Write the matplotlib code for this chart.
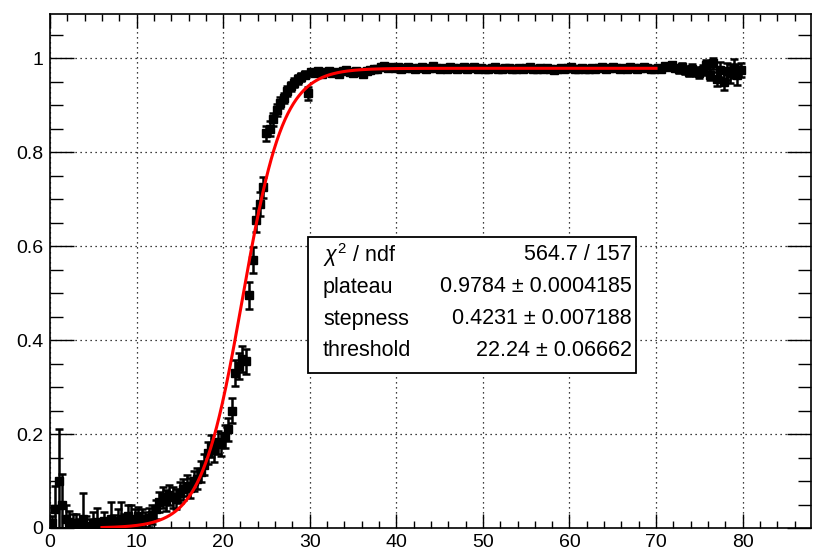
import numpy as np
import matplotlib
matplotlib.use("Agg")
import matplotlib.pyplot as plt
from matplotlib.patches import Rectangle
from matplotlib.ticker import MultipleLocator

plt.rcParams['font.family'] = ['Liberation Sans', 'DejaVu Sans']
plt.rcParams['mathtext.fontset'] = 'custom'
plt.rcParams['mathtext.rm'] = 'Liberation Sans'
plt.rcParams['mathtext.it'] = 'Liberation Sans:italic'

# Histogram binning: 200 bins of width 0.4 over [0, 80]
bin_width = 0.4
n_bins = 200

# Efficiency per bin, in four ranges of x
eff_low = [0.010, 0.040, 0.100, 0.050, 0.020, 0.012, 0.000, 0.010, 0.000, 0.020,
           0.005, 0.000, 0.010, 0.012, 0.000, 0.015, 0.000, 0.020, 0.008, 0.015,
           0.020, 0.010, 0.025, 0.018, 0.020, 0.025, 0.020, 0.018, 0.022, 0.028]
err_low = [0.015, 0.050, 0.110, 0.065, 0.030, 0.025, 0.030, 0.020, 0.020, 0.055,
           0.020, 0.020, 0.025, 0.030, 0.020, 0.020, 0.015, 0.035, 0.020, 0.025,
           0.035, 0.020, 0.025, 0.030, 0.020, 0.020, 0.020, 0.015, 0.020, 0.020]

eff_rise = [0.040, 0.055, 0.065, 0.058, 0.070, 0.065, 0.062, 0.075, 0.082, 0.090,
            0.085, 0.100, 0.105, 0.120, 0.135, 0.160, 0.175, 0.165, 0.182, 0.178,
            0.195, 0.210, 0.250, 0.330, 0.345, 0.360, 0.355, 0.495, 0.570, 0.655,
            0.690, 0.725, 0.840, 0.850, 0.870, 0.890, 0.905, 0.915, 0.930, 0.940,
            0.948, 0.955, 0.960, 0.965, 0.925]
err_rise = [0.020, 0.022, 0.022, 0.022, 0.022, 0.022, 0.022, 0.022, 0.022, 0.022,
            0.022, 0.022, 0.022, 0.022, 0.022, 0.024, 0.024, 0.024, 0.024, 0.024,
            0.025, 0.025, 0.026, 0.027, 0.027, 0.027, 0.027, 0.028, 0.028, 0.026,
            0.025, 0.022, 0.016, 0.016, 0.014, 0.013, 0.012, 0.011, 0.010, 0.010,
            0.009, 0.009, 0.008, 0.008, 0.014]

eff_plateau = [0.970, 0.968, 0.972, 0.966, 0.970, 0.973, 0.969, 0.971, 0.967, 0.972,
               0.974, 0.970, 0.968, 0.973, 0.971, 0.966, 0.972, 0.975, 0.977, 0.976,
               0.981, 0.983, 0.980, 0.982, 0.979, 0.981, 0.978, 0.980, 0.982, 0.979,
               0.977, 0.980, 0.981, 0.978, 0.980, 0.983, 0.979, 0.977, 0.980, 0.978,
               0.981, 0.979, 0.976, 0.980, 0.982, 0.978, 0.979, 0.981, 0.977, 0.980,
               0.978, 0.976, 0.979, 0.981, 0.978, 0.977, 0.980, 0.979, 0.976, 0.978,
               0.980, 0.977, 0.979, 0.982, 0.978, 0.976, 0.979, 0.977, 0.980, 0.978,
               0.975, 0.978, 0.980, 0.977, 0.979, 0.981, 0.978, 0.976, 0.979, 0.977,
               0.978, 0.980, 0.977, 0.979, 0.981, 0.978, 0.980, 0.982, 0.979, 0.977,
               0.980, 0.978, 0.981, 0.979, 0.977, 0.980, 0.982, 0.979, 0.978, 0.976]
err_plateau = [0.005] * 20 + [0.004] * 80

eff_tail = [0.980, 0.978, 0.983, 0.981, 0.985, 0.979, 0.976, 0.982, 0.975, 0.970,
            0.978, 0.972, 0.968, 0.975, 0.985, 0.965, 0.990, 0.955, 0.975, 0.950,
            0.972, 0.968, 0.978, 0.965, 0.975]
err_tail = [0.005, 0.006, 0.006, 0.006, 0.007, 0.007, 0.008, 0.008, 0.008, 0.009,
            0.009, 0.010, 0.010, 0.011, 0.012, 0.012, 0.014, 0.015, 0.016, 0.018,
            0.018, 0.020, 0.020, 0.022, 0.015]

# Fit result: plateau / (1 + exp(-stepness * (x - threshold)))
plateau = 0.9784
plateau_err = 0.0004185
stepness = 0.4231
stepness_err = 0.007188
threshold = 22.24
threshold_err = 0.06662
chi2 = 564.7
ndf = 157
fit_range = (6.0, 70.0)

eff = np.array(eff_low + eff_rise + eff_plateau + eff_tail)
err = np.array(err_low + err_rise + err_plateau + err_tail)
x = bin_width * (np.arange(n_bins) + 0.5)
lo = np.clip(eff - err, 0, None)
hi = np.minimum(eff + err, 1.0)

W, H = 817, 556
fig = plt.figure(figsize=(W / 100, H / 100), dpi=100)
ax = fig.add_axes([50 / W, (H - 528) / H, (811 - 50) / W, (528 - 14) / H])

ax.errorbar(x, eff, yerr=[eff - lo, hi - eff], fmt='s', color='black',
            markersize=5.5, elinewidth=1.8, capsize=2.8, capthick=1.8, zorder=3)

xf = np.linspace(fit_range[0], fit_range[1], 600)
yf = plateau / (1 + np.exp(-stepness * (xf - threshold)))
ax.plot(xf, yf, color='red', linewidth=2.2, zorder=4)

ax.set_xlim(0, 87.9)
ax.set_ylim(0, 1.094)
ax.xaxis.set_major_locator(MultipleLocator(10))
ax.xaxis.set_minor_locator(MultipleLocator(2))
ax.yaxis.set_major_locator(MultipleLocator(0.2))
ax.yaxis.set_minor_locator(MultipleLocator(0.05))
ax.set_yticks([0, 0.2, 0.4, 0.6, 0.8, 1.0])
ax.set_yticklabels(['0', '0.2', '0.4', '0.6', '0.8', '1'])
ax.grid(True, which='major', color='black', linestyle=(0, (1, 3)), linewidth=0.9)
ax.set_axisbelow(True)

ax.tick_params(axis='both', which='both', direction='in', top=True, right=True,
               labelsize=14, width=1.0, color='black')
ax.tick_params(axis='x', which='major', length=10, pad=4)
ax.tick_params(axis='x', which='minor', length=5)
ax.tick_params(axis='y', which='major', length=17, pad=5)
ax.tick_params(axis='y', which='minor', length=9.5)
for s in ax.spines.values():
    s.set_linewidth(1.2)

# Fit statistics box
bx0, bx1, by0, by1 = 308, 636, 237, 373
fig.add_artist(Rectangle((bx0 / W, 1 - by1 / H), (bx1 - bx0) / W, (by1 - by0) / H,
                         transform=fig.transFigure, facecolor='white',
                         edgecolor='black', linewidth=1.3, zorder=10))
rows = [
    (r"$\chi^{2}$ / ndf", f"{chi2} / {ndf}"),
    ("plateau", f"{plateau} \u00b1 {plateau_err}"),
    ("stepness", f"{stepness} \u00b1 {stepness_err}"),
    ("threshold", f"{threshold} \u00b1 {threshold_err}"),
]
for i, (name, val) in enumerate(rows):
    yc = 1 - (255 + 32 * i) / H
    fig.text(323 / W, yc, name, ha='left', va='center', fontsize=15.5, zorder=11)
    fig.text(632 / W, yc, val, ha='right', va='center', fontsize=15.5, zorder=11)

fig.savefig("out.png", dpi=100)
